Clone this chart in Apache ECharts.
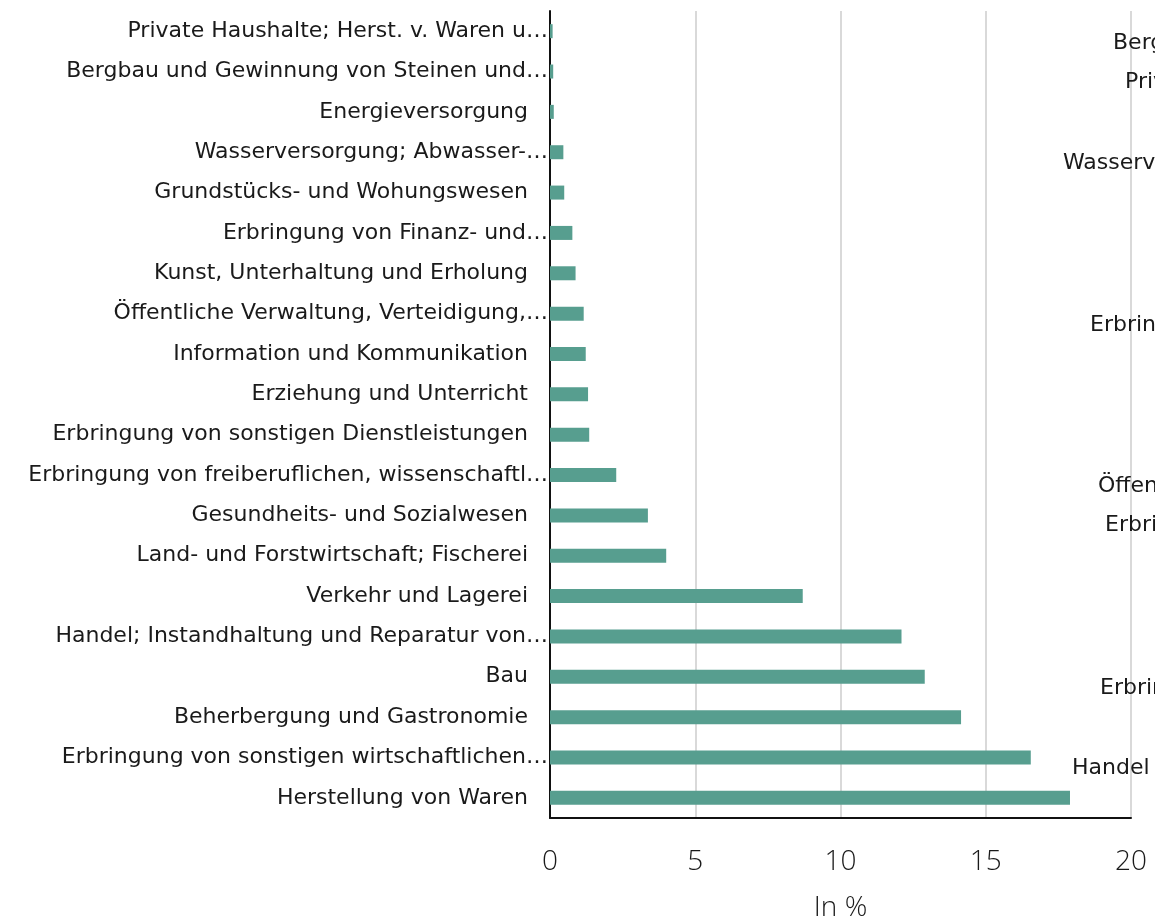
<!DOCTYPE html>
<html>
<head>
<meta charset="utf-8">
<script src="https://cdn.jsdelivr.net/npm/echarts@6/dist/echarts.min.js"></script>
<style>
  html, body { margin: 0; padding: 0; background: #fff; }
  #chart { width: 1155px; height: 921px; }
</style>
</head>
<body>
<div id="chart"></div>
<script>
// Kategorien von unten nach oben
var branchen = [
  'Herstellung von Waren',
  'Erbringung von sonstigen wirtschaftlichen…',
  'Beherbergung und Gastronomie',
  'Bau',
  'Handel; Instandhaltung und Reparatur von…',
  'Verkehr und Lagerei',
  'Land- und Forstwirtschaft; Fischerei',
  'Gesundheits- und Sozialwesen',
  'Erbringung von freiberuflichen, wissenschaftl…',
  'Erbringung von sonstigen Dienstleistungen',
  'Erziehung und Unterricht',
  'Information und Kommunikation',
  'Öffentliche Verwaltung, Verteidigung,…',
  'Kunst, Unterhaltung und Erholung',
  'Erbringung von Finanz- und…',
  'Grundstücks- und Wohungswesen',
  'Wasserversorgung; Abwasser-…',
  'Energieversorgung',
  'Bergbau und Gewinnung von Steinen und…',
  'Private Haushalte; Herst. v. Waren u…'
];
var anteile = [17.9, 16.55, 14.15, 12.9, 12.1, 8.7, 4.0, 3.37, 2.28, 1.35, 1.31, 1.23, 1.16, 0.88, 0.77, 0.49, 0.46, 0.13, 0.11, 0.09];
var xTicks = [0, 5, 10, 15, 20];

// abgeschnittene Beschriftungen der Nachbargrafik am rechten Rand
var randTexte = ['Bergbau', 'Private', 'Wasserversorgung', 'Erbringung', 'Öffentliche', 'Erbringung', 'Erbringung', 'Handel'];
var randX = [1113, 1125, 1063, 1090, 1098, 1105, 1100, 1072];
var randY = [45, 84, 165, 327, 488, 527, 690, 770];

var font = '"DejaVu Sans", "Open Sans", sans-serif';
var tickFont = '"Open Sans", "DejaVu Sans", sans-serif';

var myChart = echarts.init(document.getElementById('chart'));

var graphics = [];
for (var i = 0; i < randTexte.length; i++) {
  graphics.push({
    type: 'text',
    left: randX[i],
    top: randY[i] - 13,
    z: 10,
    style: {
      text: randTexte[i],
      fill: '#1a1a1a',
      font: '22px ' + font
    }
  });
}

var option = {
  animation: false,
  backgroundColor: '#fff',
  grid: {
    left: 550,
    right: 24,
    top: 11,
    bottom: 103,
    containLabel: false,
    outerBoundsMode: 'none'
  },
  graphic: graphics,
  xAxis: {
    type: 'value',
    min: 0,
    max: 20,
    interval: 5,
    name: 'In %',
    nameLocation: 'middle',
    nameGap: 76,
    nameTextStyle: {
      fontFamily: tickFont,
      fontSize: 28,
      fontWeight: 300,
      color: '#1a1a1a'
    },
    axisLine: {
      show: true,
      lineStyle: { color: '#111', width: 2 }
    },
    axisTick: { show: false },
    axisLabel: {
      margin: 30,
      fontFamily: tickFont,
      fontSize: 28,
      fontWeight: 300,
      color: '#1a1a1a',
      formatter: function (v) {
        return xTicks.indexOf(v) >= 0 ? String(v) : '';
      }
    },
    splitLine: {
      show: true,
      lineStyle: { color: '#d9d9d9', width: 2 }
    }
  },
  yAxis: {
    type: 'category',
    data: branchen,
    axisLine: {
      show: true,
      onZero: false,
      lineStyle: { color: '#111', width: 2 }
    },
    axisTick: { show: false },
    axisLabel: {
      margin: 2,
      fontFamily: font,
      fontSize: 22,
      color: '#1a1a1a',
      formatter: function (v) {
        if (v.charAt(v.length - 1) === '…') {
          return '{t|' + v + '}';
        }
        return '{n|' + v + '}';
      },
      rich: {
        t: { fontFamily: font, fontSize: 22, color: '#1a1a1a' },
        n: { fontFamily: font, fontSize: 22, color: '#1a1a1a', padding: [0, 20, 0, 0] }
      }
    }
  },
  series: [
    {
      name: 'Anteil',
      type: 'bar',
      data: anteile,
      barWidth: 14,
      itemStyle: { color: '#579e8f' }
    }
  ]
};
myChart.setOption(option);
</script>
</body>
</html>
